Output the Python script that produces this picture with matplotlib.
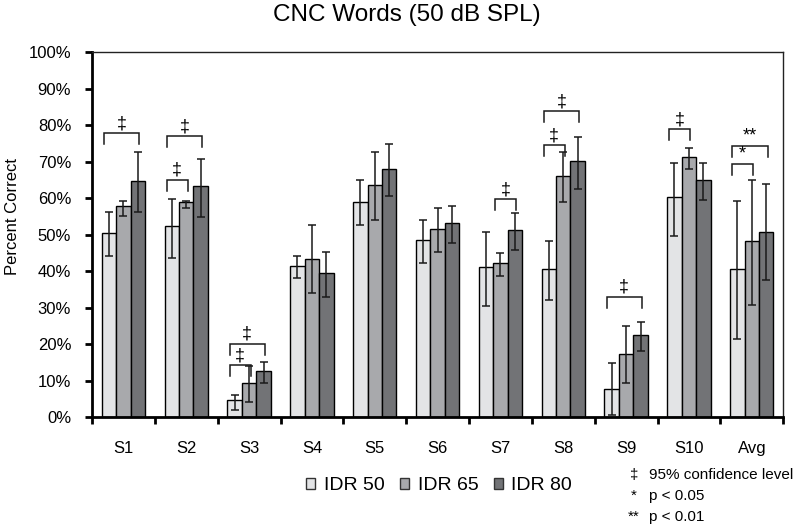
import numpy as np
import matplotlib
matplotlib.use("Agg")
import matplotlib.pyplot as plt
from matplotlib.patches import Patch

plt.rcParams['font.family'] = ['Liberation Sans', 'DejaVu Sans']

subjects = ['S1', 'S2', 'S3', 'S4', 'S5', 'S6', 'S7', 'S8', 'S9', 'S10', 'Avg']

# percent correct, with lower / upper ends of the error bars
idr50 = [50.4, 52.2, 4.6, 41.5, 58.8, 48.4, 41.1, 40.5, 7.7, 60.2, 40.5]
idr50_lo = [44.0, 43.6, 1.8, 38.1, 52.6, 42.3, 30.5, 32.0, 0.6, 49.6, 21.3]
idr50_hi = [56.1, 59.7, 6.1, 44.0, 64.8, 54.1, 50.6, 48.3, 14.7, 69.7, 59.2]

idr65 = [57.7, 58.8, 9.2, 43.4, 63.6, 51.5, 42.2, 65.9, 17.3, 71.2, 48.1]
idr65_lo = [55.1, 57.3, 4.0, 34.1, 54.0, 45.1, 38.6, 58.9, 9.2, 67.9, 30.6]
idr65_hi = [59.3, 59.2, 14.0, 52.5, 72.5, 57.2, 44.8, 72.6, 25.0, 73.7, 64.8]

idr80 = [64.7, 63.2, 12.5, 39.4, 68.0, 53.1, 51.1, 70.1, 22.5, 64.9, 50.8]
idr80_lo = [56.1, 54.8, 9.2, 33.0, 60.5, 47.8, 45.7, 62.6, 18.2, 59.5, 37.5]
idr80_hi = [72.5, 70.7, 15.1, 45.1, 74.8, 57.8, 55.8, 76.7, 26.1, 69.5, 63.7]

series_names = ['IDR 50', 'IDR 65', 'IDR 80']

# significance brackets: (subject index, from series, to series, level %, mark)
brackets = [
    (0, 0, 2, 77.7, '‡'),
    (1, 0, 1, 65.0, '‡'),
    (1, 0, 2, 76.9, '‡'),
    (2, 0, 1, 14.2, '‡'),
    (2, 0, 2, 20.1, '‡'),
    (6, 1, 2, 59.7, '‡'),
    (7, 0, 1, 74.4, '‡'),
    (7, 0, 2, 83.7, '‡'),
    (8, 0, 2, 33.0, '‡'),
    (9, 0, 1, 78.8, '‡'),
    (10, 0, 1, 69.3, '*'),
    (10, 0, 2, 74.3, '**'),
]

colors = ['#e3e4e6', '#a8a9ac', '#727376']

fig = plt.figure(figsize=(8, 5.29), dpi=100)
ax = fig.add_axes([0.115, 0.2117, 0.864, 0.69])

x = np.arange(len(subjects))
w = 0.23
vals = [idr50, idr65, idr80]
los = [idr50_lo, idr65_lo, idr80_lo]
his = [idr50_hi, idr65_hi, idr80_hi]

for i in range(3):
    v = np.array(vals[i])
    yerr = [v - np.array(los[i]), np.array(his[i]) - v]
    ax.bar(x + (i - 1) * w, v, w, color=colors[i], edgecolor='black',
           linewidth=1.0, zorder=2)
    ax.errorbar(x + (i - 1) * w, v, yerr=yerr, fmt='none', ecolor='#1a1a1a',
                elinewidth=1.1, capsize=2.8, capthick=1.1, zorder=3)

for g, a, b, lev, mark in brackets:
    x0 = g + (a - 1) * w - 0.35 * w
    x1 = g + (b - 1) * w + 0.1 * w
    ax.plot([x0, x0, x1, x1], [lev - 3.0, lev, lev, lev - 3.0],
            color='#1a1a1a', lw=1.1, zorder=4, solid_joinstyle='miter')
    ax.text((x0 + x1) / 2, lev + 0.3, mark, ha='center', va='bottom',
            fontsize=13, zorder=5)

ax.set_xlim(-0.5, len(subjects) - 0.5)
ax.set_ylim(0, 100)
ax.set_yticks(np.arange(0, 101, 10))
ax.set_yticklabels(['%d%%' % t for t in range(0, 101, 10)], fontsize=12)
ax.set_xticks(np.arange(len(subjects) + 1) - 0.5)
ax.set_xticklabels([])
ax.set_xticks(x, minor=True)
ax.set_xticklabels(subjects, minor=True, fontsize=12)
ax.tick_params(axis='x', which='minor', length=0, pad=17)
ax.tick_params(axis='x', which='major', direction='out', length=5, width=2)
ax.tick_params(axis='y', direction='out', length=5, width=2, pad=10)

for s in ['left', 'bottom']:
    ax.spines[s].set_linewidth(2)
for s in ['top', 'right']:
    ax.spines[s].set_linewidth(1)
    ax.spines[s].set_color('#222222')

ax.set_ylabel('Percent Correct', fontsize=12)
ax.yaxis.set_label_coords(-0.104, 0.55)

fig.text(0.509, 1 - 15 / 529, 'CNC Words (50 dB SPL)', ha='center',
         va='center', fontsize=17.5)

handles = [Patch(facecolor=colors[i], edgecolor='#333333', linewidth=1.0)
           for i in range(3)]
fig.legend(handles, series_names, loc='center', bbox_to_anchor=(0.549, 1 - 486 / 529),
           ncol=3, frameon=False, fontsize=14, handlelength=0.45,
           handleheight=0.45, handletextpad=0.45, columnspacing=0.8)

notes = [('‡', '95% confidence level', 475), ('*', 'p < 0.05', 496),
         ('**', 'p < 0.01', 517)]
for sym, txt, yy in notes:
    fig.text(634 / 800, 1 - yy / 529, sym, ha='center', va='center', fontsize=11)
    fig.text(649 / 800, 1 - yy / 529, txt, ha='left', va='center', fontsize=11)

fig.savefig('out.png', dpi=100)
